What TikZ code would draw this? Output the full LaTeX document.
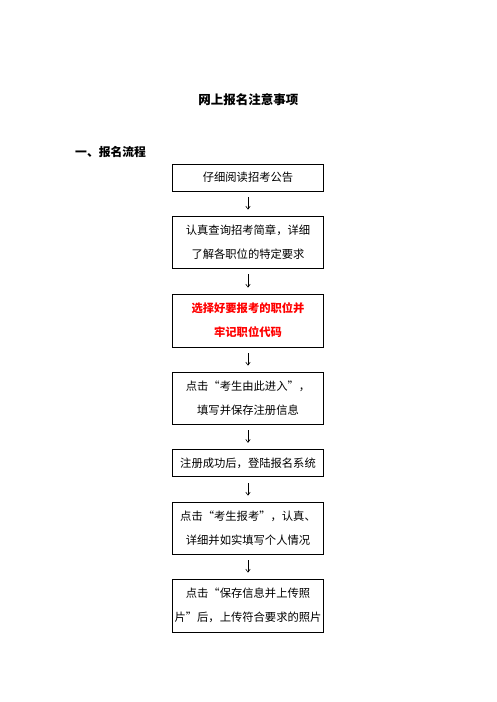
\documentclass[tikz,border=0pt]{standalone}
\usepackage{fontspec}
\newfontfamily\cjk{Noto Sans CJK SC}
\usetikzlibrary{arrows.meta}
\begin{document}
\begin{tikzpicture}[x=1pt,y=1pt,
  box/.style={draw=black,line width=0.8pt,minimum width=150.6pt,inner sep=0pt,align=center,font=\cjk\fontsize{11.3}{24}\selectfont},
  arr/.style={line width=0.6pt,shorten >=6pt,shorten <=6pt,-{Straight Barb[length=3pt,width=4.5pt]}}]
\useasboundingbox (0,0) rectangle (496,-702);
\fill[white] (0,0) rectangle (496,-702);
\node[font=\cjk\bfseries\fontsize{12.5}{14}\selectfont] (title) at (248.4,-100) {网上报名注意事项};
\node[anchor=west,inner sep=0pt,font=\cjk\bfseries\fontsize{11.8}{14}\selectfont] (head) at (75,-151.7) {一、报名流程};
\node[box,minimum height=27pt] (b1) at (248,-177.5) {仔细阅读招考公告};
\node[box,minimum height=52pt] (b2) at (248,-242) {认真查询招考简章，详细\\了解各职位的特定要求};
\node[box,minimum height=53pt,text=red,font=\cjk\bfseries\fontsize{11.3}{24}\selectfont] (b3) at (248,-320.5) {选择好要报考的职位并\\牢记职位代码};
\node[box,minimum height=52pt] (b4) at (248,-398) {点击“考生由此进入”，\\填写并保存注册信息};
\node[box,minimum height=27.5pt] (b5) at (248,-463) {注册成功后，登陆报名系统};
\node[box,minimum height=52pt] (b6) at (248,-528) {点击“考生报考”，认真、\\详细并如实填写个人情况};
\node[box,minimum height=53pt] (b7) at (248,-605.5) {点击“保存信息并上传照\\片”后，上传符合要求的照片};
\draw[arr] (b1) -- (b2);
\draw[arr] (b2) -- (b3);
\draw[arr] (b3) -- (b4);
\draw[arr] (b4) -- (b5);
\draw[arr] (b5) -- (b6);
\draw[arr] (b6) -- (b7);
\end{tikzpicture}
\end{document}
